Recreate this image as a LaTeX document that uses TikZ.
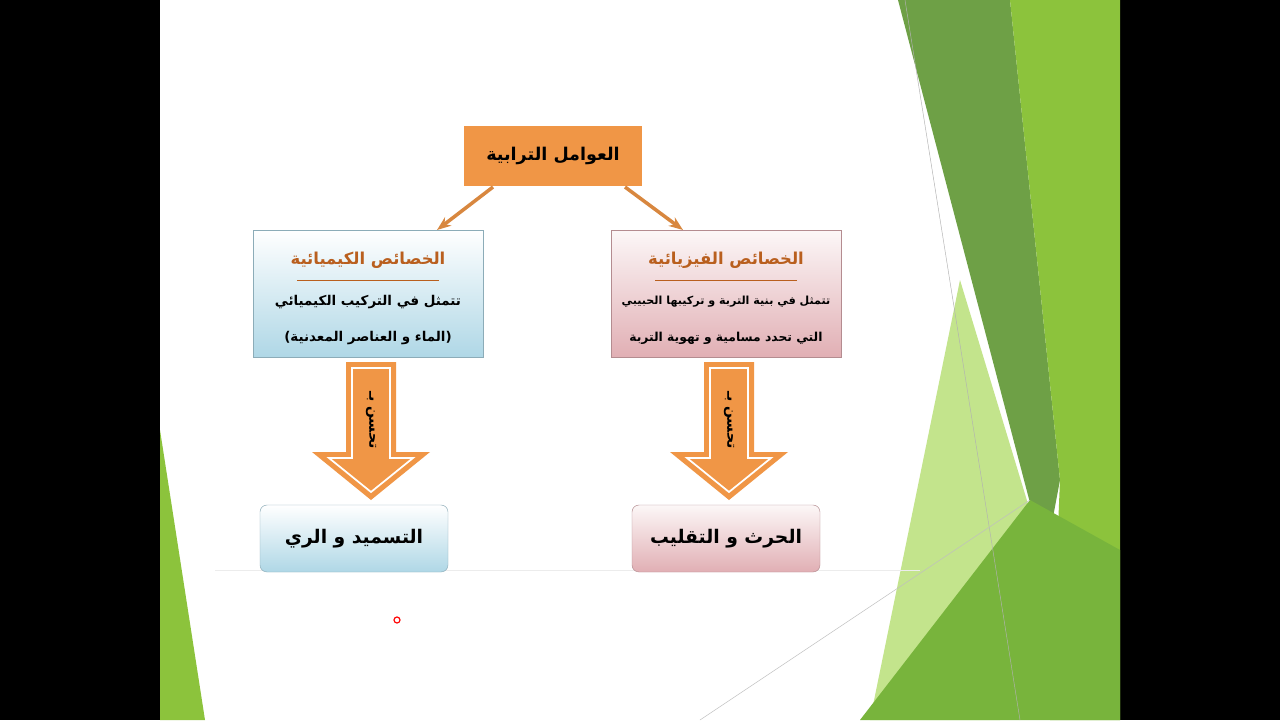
\documentclass[tikz,border=0pt]{standalone}
\usepackage{fontspec}
\newfontfamily\arabicfont[Script=Arabic]{DejaVu Sans}
\TeXXeTstate=1
\definecolor{org}{RGB}{240,150,70}
\definecolor{brn}{RGB}{185,95,30}
\definecolor{lblue}{RGB}{175,215,230}
\definecolor{lpink}{RGB}{225,175,180}
\definecolor{gA}{RGB}{110,160,70}
\definecolor{gB}{RGB}{140,195,60}
\definecolor{gC}{RGB}{195,228,140}
\definecolor{gD}{RGB}{120,180,60}
\tikzset{
 ar/.style={font=\arabicfont\bfseries},
 bluebox/.style={draw=lblue!80!black,top color=white,bottom color=lblue},
 pinkbox/.style={draw=lpink!80!black,top color=white!90!lpink,bottom color=lpink},
 conn/.style={draw=org!90!black,line width=3pt,-{Stealth[length=12pt]}},
}
\usetikzlibrary{arrows.meta}
\begin{document}
\begin{tikzpicture}[x=0.03cm,y=-0.03cm]
\useasboundingbox (0,0) rectangle (1280,720);
\fill[black] (0,0) rectangle (160,720);
\fill[black] (1120,0) rectangle (1280,720);
\fill[white] (160,0) rectangle (1120,720);
% greens
\fill[gB] (160,430) -- (205,720) -- (160,720) -- cycle;
\fill[gA] (898,0) -- (1010,0) -- (1060,480) -- (1045,560) -- cycle;
\fill[gB] (1010,0) -- (1120,0) -- (1120,720) -- (1050,720) -- (1060,480) -- cycle;
\fill[gC] (960,280) -- (1045,560) -- (1000,720) -- (870,720) -- cycle;
\fill[gD] (860,720) -- (1030,500) -- (1120,550) -- (1120,720) -- cycle;
\draw[gray!60] (905,0) -- (1020,720);
\draw[gray!50] (700,720) -- (1030,500);
\draw[gray!15] (215,570) -- (920,570);
% top
\node[fill=org,draw=white,line width=1.5pt,minimum width=180*0.03cm,minimum height=62*0.03cm,font=\arabicfont\bfseries\fontsize{15}{18}\selectfont] (top) at (553,156) {\beginR العوامل الترابية\endR};
% left box
\node[bluebox,minimum width=230*0.03cm,minimum height=127*0.03cm] (L) at (368,293.5) {};
\node[text=brn,font=\arabicfont\bfseries\fontsize{14}{16}\selectfont] (Lt) at (368,260) {\beginR الخصائص الكيميائية\endR};
\draw[brn] (297,280) -- (439,280);
\node[font=\arabicfont\bfseries\fontsize{11.5}{14}\selectfont] (L1) at (368,302) {\beginR تتمثل في التركيب الكيميائي\endR};
\node[font=\arabicfont\bfseries\fontsize{11.5}{14}\selectfont] (L2) at (368,338) {\beginR (الماء و العناصر المعدنية)\endR};
% right box
\node[pinkbox,minimum width=230*0.03cm,minimum height=127*0.03cm] (R) at (726,293.5) {};
\node[text=brn,font=\arabicfont\bfseries\fontsize{14}{16}\selectfont] (Rt) at (726,260) {\beginR الخصائص الفيزيائية\endR};
\draw[brn] (655,280) -- (797,280);
\node[font=\arabicfont\bfseries\fontsize{9.5}{12}\selectfont] (R1) at (726,302) {\beginR تتمثل في بنية التربة و تركيبها الحبيبي\endR};
\node[font=\arabicfont\bfseries\fontsize{10.5}{12}\selectfont] (R2) at (726,338) {\beginR التي تحدد مسامية و تهوية التربة\endR};
\coordinate (ta) at (493,187); \coordinate (tb) at (625,187);
\coordinate (la) at (437,230); \coordinate (rb) at (683,230);
\draw[conn] (ta) -- (la);
\draw[conn] (tb) -- (rb);
% big arrows
\foreach \cx/\nm in {371/a1,729/a2}{
 \fill[org] (\cx-25,362) -- (\cx+25,362) -- (\cx+25,452) -- (\cx+59,452) -- (\cx,500) -- (\cx-59,452) -- (\cx-25,452) -- cycle;
 \draw[white,line width=1.5pt] (\cx-19,368) -- (\cx+19,368) -- (\cx+19,458) -- (\cx+42,458) -- (\cx,492) -- (\cx-42,458) -- (\cx-19,458) -- cycle;
 \node[rotate=-90,font=\arabicfont\bfseries\fontsize{12}{14}\selectfont] (\nm) at (\cx,420) {\beginR تحسن بـ\endR};
}
% bottom boxes
\node[bluebox,rounded corners=6pt,minimum width=188*0.03cm,minimum height=67*0.03cm,font=\arabicfont\bfseries\fontsize{16}{18}\selectfont] (B1) at (354,538.5) {\beginR التسميد و الري\endR};
\node[pinkbox,rounded corners=6pt,minimum width=188*0.03cm,minimum height=67*0.03cm,font=\arabicfont\bfseries\fontsize{16}{18}\selectfont] (B2) at (726,538.5) {\beginR الحرث و التقليب\endR};
\draw[red,line width=1pt] (397,620) circle (3);
\end{tikzpicture}
\end{document}
